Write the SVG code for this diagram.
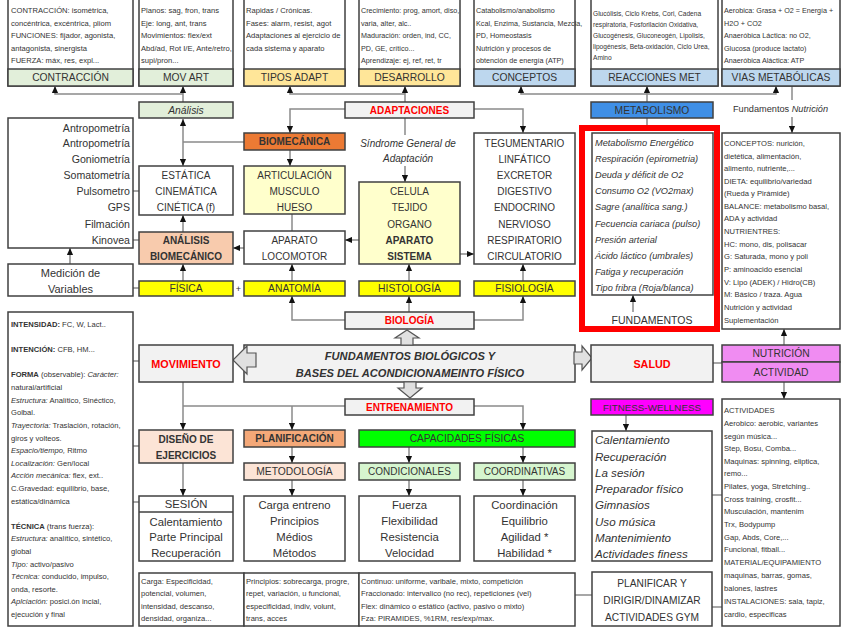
<svg xmlns="http://www.w3.org/2000/svg" width="848" height="636" viewBox="0 0 848 636">
<style>
text{font-family:"Liberation Sans",Arial,sans-serif;fill:#333;dominant-baseline:central}
.c{text-anchor:middle}
.e{text-anchor:end}
.L{font-size:10px}
.M{font-size:10.3px}
.s{font-size:7.6px}
.s2{font-size:7.2px}
.xs{font-size:6.6px}
.b{font-weight:bold}
.i{font-style:italic}
.r{fill:#ff0000}
.bx{fill:#fff;stroke:#404040;stroke-width:1.5}
.cn{fill:none;stroke:#8a8a8a;stroke-width:1.5}
.ar{marker-end:url(#a)}
.g1{fill:#e2efda}.yo{fill:#ffe699}.bl{fill:#bdd7ee}.gr{fill:#f2f2f2}.ye{fill:#ffff00}.ly{fill:#ffffcc}.pe{fill:#fce4d6}.pk{fill:#f8cbad}
.blk{fill:#e0e0e0;stroke:#555;stroke-width:1.2}
</style>
<defs>
<marker id="a" viewBox="0 0 8 8" refX="8" refY="4" markerWidth="7" markerHeight="7" markerUnits="userSpaceOnUse" orient="auto-start-reverse"><path d="M0,0.5 L8,4 L0,7.5z" fill="#111"/></marker>
</defs>
<rect width="848" height="636" fill="#fff"/>
<g id="connectors">
<path class="cn ar" d="M183,102 V86"/>
<path class="cn ar" d="M183,94 H55 V86"/>
<path class="cn ar" d="M405,102 V86"/>
<path class="cn ar" d="M405,94 H290 V86"/>
<path class="cn ar" d="M345,109 H290 V133"/>
<path class="cn" d="M405,118 V135"/>
<path class="cn ar" d="M405,166 V182"/>
<path class="cn ar" d="M474,109 H523 V133"/>
<path class="cn" d="M647,128 V94"/>
<path class="cn ar" d="M647,94 V86"/>
<path class="cn ar" d="M647,94 H521 V86"/>
<path class="cn ar" d="M647,94 H776 V86"/>
<path class="cn" d="M792,86 V100"/>
<path class="cn ar" d="M792,117 V133"/>
<path class="cn ar" d="M183,119 V166" marker-start="url(#a)"/>
<path class="cn" d="M183,142 H244"/>
<path class="cn" d="M133,191 H139"/>
<path class="cn" d="M133,240 H139"/>
<path class="cn ar" d="M290,150 V166"/>
<path class="cn" d="M292,214 V231"/>
<path class="cn ar" d="M244,248 H233"/>
<path class="cn ar" d="M183,232 V215"/>
<path class="cn ar" d="M70,264 V248"/>
<path class="cn" d="M133,288 H139"/>
<path class="cn ar" d="M183,281 V264"/>
<path class="cn ar" d="M292,281 V264"/>
<path class="cn ar" d="M359,240 H345"/>
<path class="cn ar" d="M460,254 H474"/>
<path class="cn ar" d="M409,281 V264"/>
<path class="cn ar" d="M523,281 V264"/>
<path class="cn ar" d="M345,320 H292 V296"/>
<path class="cn ar" d="M409,312 V296"/>
<path class="cn ar" d="M474,320 H523 V296"/>
<path class="cn ar" d="M633,312 V295"/>
<path class="cn" d="M133,361 H139"/>
<path class="cn ar" d="M183,382 V430"/>
<path class="cn" d="M345,406 H183"/>
<path class="cn ar" d="M292,406 V430"/>
<path class="cn ar" d="M474,406 H523 V430"/>
<path class="cn" d="M713,363 H722"/>
<path class="cn ar" d="M784,345 V329"/>
<path class="cn ar" d="M784,382 V399"/>
<path class="cn ar" d="M626,415 V431"/>
<path class="cn" d="M133,446 H139"/>
<path class="cn" d="M133,502 H139"/>
<path class="cn ar" d="M183,463 V496"/>
<path class="cn ar" d="M292,447 V463"/>
<path class="cn ar" d="M292,480 V496"/>
<path class="cn ar" d="M409,447 V463"/>
<path class="cn ar" d="M523,447 V463"/>
<path class="cn ar" d="M409,480 V496"/>
<path class="cn ar" d="M523,480 V496"/>
<path class="cn" d="M575,595 H592"/>
<path class="cn" d="M712,495 H722"/>
<path class="cn" d="M712,607 H722"/>
</g>

<g id="contraccion">
<rect class="bx" x="8" y="-2" width="125" height="88"/>
<text class="s" x="11" y="10">CONTRACCIÓN: isométrica,</text>
<text class="s" x="11" y="23">concéntrica, excéntrica, pliom</text>
<text class="s" x="11" y="35">FUNCIONES: fijador, agonista,</text>
<text class="s" x="11" y="48">antagonista, sinergista</text>
<text class="s" x="11" y="60">FUERZA: máx, res, expl...</text>
<rect class="bx g1" x="8" y="69" width="125" height="17"/>
<text class="M c" x="70.5" y="77.5">CONTRACCIÓN</text>
</g>
<g id="movart">
<rect class="bx" x="139" y="-2" width="94" height="88"/>
<text class="s" x="141" y="10">Planos: sag, fron, trans</text>
<text class="s" x="141" y="23">Eje: long, ant, trans</text>
<text class="s" x="141" y="35">Movimientos: flex/ext</text>
<text class="s" x="141" y="48">Abd/ad, Rot I/E, Ante/retro,</text>
<text class="s" x="141" y="60">supi/pron...</text>
<rect class="bx g1" x="139" y="69" width="94" height="17"/>
<text class="M c" x="186" y="77.5">MOV ART</text>
</g>
<g id="tiposadapt">
<rect class="bx" x="244" y="-2" width="101" height="88"/>
<text class="s" x="246" y="10">Rapidas / Crónicas.</text>
<text class="s" x="246" y="23">Fases: alarm, resist, agot</text>
<text class="s" x="246" y="35">Adaptaciones al ejercicio de</text>
<text class="s" x="246" y="48">cada sistema y aparato</text>
<rect class="bx yo" x="244" y="69" width="101" height="17"/>
<text class="M c" x="294.5" y="77.5">TIPOS ADAPT</text>
</g>
<g id="desarrollo">
<rect class="bx" x="359" y="-2" width="101" height="88"/>
<text class="s2" x="361" y="10">Crecimiento: prog, amort, diso,</text>
<text class="s2" x="361" y="23">varia, alter, alc..</text>
<text class="s2" x="361" y="35">Maduración: orden, ind, CC,</text>
<text class="s2" x="361" y="48">PD, GE, crítico...</text>
<text class="s2" x="361" y="60">Aprendizaje: ej, ref, ret, tr</text>
<rect class="bx yo" x="359" y="69" width="101" height="17"/>
<text class="M c" x="409.5" y="77.5">DESARROLLO</text>
</g>
<g id="conceptos">
<rect class="bx" x="474" y="-2" width="101" height="88"/>
<text class="s2" x="476" y="10">Catabolismo/anabolismo</text>
<text class="s2" x="476" y="23">Kcal, Enzima, Sustancia, Mezcla,</text>
<text class="s2" x="476" y="35">PD, Homeostasis</text>
<text class="s2" x="476" y="48">Nutrición y procesos de</text>
<text class="s2" x="476" y="60">obtención de energía (ATP)</text>
<rect class="bx bl" x="474" y="69" width="101" height="17"/>
<text class="M c" x="524.5" y="77.5">CONCEPTOS</text>
</g>
<g id="reacciones">
<rect class="bx" x="591" y="-2" width="127" height="88"/>
<text class="xs" x="593" y="13">Glucólisis, Ciclo Krebs, Cori, Cadena</text>
<text class="xs" x="593" y="24">respiratoria, Fosforilación Oxidativa,</text>
<text class="xs" x="593" y="35">Glucogénesis, Gluconeogén, Lipolisis,</text>
<text class="xs" x="593" y="46">lipogénesis, Beta-oxidación, Ciclo Urea,</text>
<text class="xs" x="593" y="57">Amino</text>
<rect class="bx bl" x="591" y="69" width="127" height="17"/>
<text class="M c" x="654.5" y="77.5">REACCIONES MET</text>
</g>
<g id="vias">
<rect class="bx" x="722" y="-2" width="118" height="88"/>
<text class="s2" x="724" y="10">Aerobica: Grasa + O2 = Energía +</text>
<text class="s2" x="724" y="23">H2O + CO2</text>
<text class="s2" x="724" y="35">Anaeróbica Láctica: no O2,</text>
<text class="s2" x="724" y="48">Glucosa (produce lactato)</text>
<text class="s2" x="724" y="60">Anaeróbica Aláctica: ATP</text>
<rect class="bx bl" x="722" y="69" width="118" height="17"/>
<text class="M c" x="781" y="77.5">VIAS METABÓLICAS</text>
</g>

<g id="analisis"><rect class="bx g1" x="139" y="102" width="94" height="16"/><text class="M c i" x="186" y="110">Análisis</text></g>
<g id="adaptaciones"><rect class="bx gr" x="345" y="102" width="129" height="16"/><text class="L c b r" x="409.5" y="110">ADAPTACIONES</text></g>
<g id="metabolismo"><rect class="bx" x="591" y="102" width="122" height="16" style="fill:#3f8fe6"/><text class="M c" x="652" y="110">METABOLISMO</text></g>
<text x="733" y="109" style="font-size:9.2px">Fundamentos <tspan class="i">Nutrición</tspan></text>
<text class="c i" x="408" y="143" style="font-size:10px">Síndrome General de</text>
<text class="c i" x="408" y="158" style="font-size:10px">Adaptación</text>

<g id="antropometria">
<rect class="bx" x="8" y="118" width="125" height="130"/>
<text class="e" x="130" y="128" style="font-size:10.6px">Antropometría</text>
<text class="e" x="130" y="143" style="font-size:10.6px">Antropometría</text>
<text class="e" x="130" y="159" style="font-size:10.6px">Goniometría</text>
<text class="e" x="130" y="175" style="font-size:10.6px">Somatometría</text>
<text class="e" x="130" y="191" style="font-size:10.6px">Pulsometro</text>
<text class="e" x="130" y="207" style="font-size:10.6px">GPS</text>
<text class="e" x="130" y="224" style="font-size:10.6px">Filmación</text>
<text class="e" x="130" y="240" style="font-size:10.6px">Kinovea</text>
</g>
<g id="estatica">
<rect class="bx" x="139" y="166" width="94" height="49"/>
<text class="L c" x="186" y="175">ESTÁTICA</text>
<text class="L c" x="186" y="191">CINEMÁTICA</text>
<text class="L c" x="186" y="207">CINÉTICA (f)</text>
</g>
<g id="biomecanica"><rect class="bx" x="244" y="133" width="101" height="17" style="fill:#ec7a34"/><text class="L c b" x="294.5" y="141.5">BIOMECÁNICA</text></g>
<g id="articulacion">
<rect class="bx ly" x="244" y="166" width="101" height="48"/>
<text class="L c" x="294.5" y="175">ARTICULACIÓN</text>
<text class="L c" x="294.5" y="191">MUSCULO</text>
<text class="L c" x="294.5" y="207">HUESO</text>
</g>
<g id="celula">
<rect class="bx ly" x="359" y="182" width="101" height="82"/>
<text class="L c" x="409.5" y="191">CELULA</text>
<text class="L c" x="409.5" y="207">TEJIDO</text>
<text class="L c" x="409.5" y="224">ORGANO</text>
<text class="L c b" x="409.5" y="240">APARATO</text>
<text class="L c b" x="409.5" y="256">SISTEMA</text>
</g>
<g id="sistemas">
<rect class="bx" x="474" y="133" width="101" height="131"/>
<text class="L c" x="524.5" y="143">TEGUMENTARIO</text>
<text class="L c" x="524.5" y="159">LINFÁTICO</text>
<text class="L c" x="524.5" y="175">EXCRETOR</text>
<text class="L c" x="524.5" y="191">DIGESTIVO</text>
<text class="L c" x="524.5" y="207">ENDOCRINO</text>
<text class="L c" x="524.5" y="224">NERVIOSO</text>
<text class="L c" x="524.5" y="240">RESPIRATORIO</text>
<text class="L c" x="524.5" y="256">CIRCULATORIO</text>
</g>
<g id="fundamentos-list">
<rect class="bx" x="592" y="133" width="121" height="162"/>
<text class="i" x="595" y="143" style="font-size:9.2px">Metabolismo Energético</text>
<text class="i" x="595" y="159" style="font-size:9.2px">Respiración (epirometria)</text>
<text class="i" x="595" y="175" style="font-size:9.2px">Deuda y déficit de O2</text>
<text class="i" x="595" y="191" style="font-size:9.2px">Consumo O2 (VO2max)</text>
<text class="i" x="595" y="207" style="font-size:9.2px">Sagre (analítica sang.)</text>
<text class="i" x="595" y="224" style="font-size:9.2px">Fecuencia cariaca (pulso)</text>
<text class="i" x="595" y="240" style="font-size:9.2px">Presión arterial</text>
<text class="i" x="595" y="256" style="font-size:9.2px">Ácido láctico (umbrales)</text>
<text class="i" x="595" y="272" style="font-size:9.2px">Fatiga y recuperación</text>
<text class="i" x="595" y="288" style="font-size:9.2px">Tipo fribra (Roja/blanca)</text>
<text class="c" x="652" y="320" style="font-size:10.5px">FUNDAMENTOS</text>
</g>
<rect id="highlight" x="582" y="128" width="135" height="201" fill="none" stroke="#ff0000" stroke-width="6"/>
<g id="nutricion-conceptos">
<rect class="bx" x="722" y="133" width="118" height="196"/>
<text class="s" x="724" y="143">CONCEPTOS: nurición,</text>
<text class="s" x="724" y="156">dietética, alimentación,</text>
<text class="s" x="724" y="168">alimento, nutriente,...</text>
<text class="s" x="724" y="181">DIETA: equilibrio/variedad</text>
<text class="s" x="724" y="193">(Rueda y Pirámide)</text>
<text class="s" x="724" y="206">BALANCE: metabolismo basal,</text>
<text class="s" x="724" y="218">ADA y actividad</text>
<text class="s" x="724" y="231">NUTRIENTRES:</text>
<text class="s" x="724" y="244">HC: mono, dis, polisacar</text>
<text class="s" x="724" y="256">G: Saturada, mono y poli</text>
<text class="s" x="724" y="269">P: aminoacido esencial</text>
<text class="s" x="724" y="282">V: Lipo (ADEK) / Hidro(CB)</text>
<text class="s" x="724" y="294">M: Básico / traza. Agua</text>
<text class="s" x="724" y="307">Nutrición y actividad</text>
<text class="s" x="724" y="320">Suplementación</text>
</g>
<g id="analisis-biomecanico">
<rect class="bx pk" x="139" y="232" width="94" height="32"/>
<text class="L c b" x="186" y="240">ANÁLISIS</text>
<text class="L c b" x="186" y="256">BIOMECÁNICO</text>
</g>
<g id="aparato-locomotor">
<rect class="bx" x="244" y="231" width="101" height="33"/>
<text class="L c" x="294.5" y="240">APARATO</text>
<text class="L c" x="294.5" y="256">LOCOMOTOR</text>
</g>
<g id="medicion">
<rect class="bx" x="8" y="264" width="125" height="32"/>
<text class="c" x="70.5" y="273" style="font-size:11px">Medición de</text>
<text class="c" x="70.5" y="289" style="font-size:11px">Variables</text>
</g>
<g id="fisica"><rect class="bx ye" x="139" y="281" width="94" height="15"/><text class="M c" x="186" y="288.5">FÍSICA</text></g>
<text class="c" x="238.5" y="289" style="font-size:9px">+</text>
<g id="anatomia"><rect class="bx ye" x="244" y="281" width="101" height="15"/><text class="M c" x="294.5" y="288.5">ANATOMÍA</text></g>
<g id="histologia"><rect class="bx ye" x="359" y="281" width="101" height="15"/><text class="M c" x="409.5" y="288.5">HISTOLOGÍA</text></g>
<g id="fisiologia"><rect class="bx ye" x="474" y="281" width="101" height="15"/><text class="M c" x="524.5" y="288.5">FISIOLOGÍA</text></g>
<g id="biologia"><rect class="bx gr" x="345" y="312" width="129" height="17"/><text class="L c b r" x="409.5" y="320.5">BIOLOGÍA</text></g>

<g id="fundamentos-central">
<rect class="bx gr" x="244" y="345" width="331" height="37"/>
<text class="c b i" x="410" y="356" style="font-size:11.1px">FUNDAMENTOS BIOLÓGICOS Y</text>
<text class="c b i" x="410" y="373" style="font-size:11.1px">BASES DEL ACONDICIONAMEINTO FÍSICO</text>
</g>
<g id="block-arrows">
<path class="blk" d="M401,345 V338 H395 L407,330 L419,338 H413 V345 Z"/>
<path class="blk" d="M404,382 V388 H398 L410,398 L422,388 H416 V382 Z"/>
<path class="blk" d="M256,353 H247 V346 L233,360 L247,374 V367 H256 Z"/>
<path class="blk" d="M574,352 H582 V346 L592,358 L582,370 V364 H574 Z"/>
</g>
<g id="movimiento"><rect class="bx gr" x="139" y="345" width="94" height="37"/><text class="c b r" x="186" y="363.5" style="font-size:10.8px">MOVIMIENTO</text></g>
<g id="salud"><rect class="bx gr" x="591" y="345" width="122" height="37"/><text class="c b r" x="652" y="363.5" style="font-size:10.8px">SALUD</text></g>
<g id="nutricion-actividad">
<rect class="bx" x="722" y="345" width="118" height="17" style="fill:#f08cf2"/>
<rect class="bx" x="722" y="362" width="118" height="20" style="fill:#f08cf2"/>
<text class="M c" x="781" y="353.5">NUTRICIÓN</text>
<text class="M c" x="781" y="372">ACTIVIDAD</text>
</g>
<g id="movimiento-texto">
<rect class="bx" x="8" y="312" width="125" height="314"/>
<text class="s" x="11" y="324"><tspan class="b">INTENSIDAD:</tspan> FC, W, Lact..</text>
<text class="s" x="11" y="349"><tspan class="b">INTENCIÓN:</tspan> CFB, HM...</text>
<text class="s" x="11" y="374"><tspan class="b">FORMA</tspan> (observable): <tspan class="i">Carácter:</tspan></text>
<text class="s" x="11" y="387">natural/artificial</text>
<text class="s" x="11" y="400"><tspan class="i">Estructura:</tspan> Analítico, Sinéctico,</text>
<text class="s" x="11" y="412">Golbal.</text>
<text class="s" x="11" y="425"><tspan class="i">Trayectoria:</tspan> Traslación, rotación,</text>
<text class="s" x="11" y="438">giros y volteos.</text>
<text class="s" x="11" y="450"><tspan class="i">Espacio/tiempo,</tspan> Ritmo</text>
<text class="s" x="11" y="463"><tspan class="i">Localización:</tspan> Gen/local</text>
<text class="s" x="11" y="475"><tspan class="i">Acción mecánica:</tspan> flex, ext..</text>
<text class="s" x="11" y="488">C.Gravedad: equilibrio, base,</text>
<text class="s" x="11" y="501">estática/dinámica</text>
<text class="s" x="11" y="526"><tspan class="b">TÉCNICA</tspan> (trans fuerza):</text>
<text class="s" x="11" y="538"><tspan class="i">Estructura:</tspan> analítico, sintético,</text>
<text class="s" x="11" y="551">global</text>
<text class="s" x="11" y="564"><tspan class="i">Tipo:</tspan> activo/pasivo</text>
<text class="s" x="11" y="576"><tspan class="i">Técnica:</tspan> conducido, impulso,</text>
<text class="s" x="11" y="589">onda, resorte.</text>
<text class="s" x="11" y="601"><tspan class="i">Aplciación:</tspan> posici.ón incial,</text>
<text class="s" x="11" y="614">ejecución y final</text>
</g>
<g id="entrenamiento"><rect class="bx gr" x="345" y="399" width="129" height="16"/><text class="L c b r" x="409.5" y="407">ENTRENAMIENTO</text></g>
<g id="fitness"><rect class="bx" x="591" y="399" width="122" height="16" style="fill:#ff00ff"/><text class="c" x="652" y="407" style="font-size:9.8px">FITNESS-WELLNESS</text></g>
<g id="diseno">
<rect class="bx pe" x="139" y="430" width="94" height="33"/>
<text class="L c b" x="186" y="439">DISEÑO DE</text>
<text class="L c b" x="186" y="455">EJERCICIOS</text>
</g>
<g id="sesion">
<rect class="bx" x="139" y="496" width="94" height="65"/>
<line x1="139" y1="512" x2="233" y2="512" stroke="#404040" stroke-width="1.5"/>
<text class="c" x="186" y="504" style="font-size:11.3px">SESIÓN</text>
<text class="c" x="186" y="522" style="font-size:11.3px">Calentamiento</text>
<text class="c" x="186" y="537" style="font-size:11.3px">Parte Principal</text>
<text class="c" x="186" y="553" style="font-size:11.3px">Recuperación</text>
</g>
<g id="planificacion"><rect class="bx" x="244" y="430" width="101" height="17" style="fill:#f4a878"/><text class="L c b" x="294.5" y="438.5">PLANIFICACIÓN</text></g>
<g id="metodologia"><rect class="bx pe" x="244" y="463" width="101" height="17"/><text class="M c" x="294.5" y="471.5">METODOLOGÍA</text></g>
<g id="carga">
<rect class="bx" x="244" y="496" width="101" height="65"/>
<text class="c" x="294.5" y="505" style="font-size:11.3px">Carga entreno</text>
<text class="c" x="294.5" y="521" style="font-size:11.3px">Principios</text>
<text class="c" x="294.5" y="537" style="font-size:11.3px">Médios</text>
<text class="c" x="294.5" y="553" style="font-size:11.3px">Métodos</text>
</g>
<g id="capacidades"><rect class="bx" x="359" y="430" width="216" height="17" style="fill:#00ff00"/><text class="c" x="467" y="438.5" style="font-size:10.2px">CAPACIDADES FÍSICAS</text></g>
<g id="condicionales"><rect class="bx" x="359" y="463" width="101" height="17" style="fill:#d6f5cf"/><text class="L c" x="409.5" y="471.5">CONDICIONALES</text></g>
<g id="coordinativas"><rect class="bx" x="474" y="463" width="101" height="17" style="fill:#d6f5cf"/><text class="L c" x="524.5" y="471.5">COORDINATIVAS</text></g>
<g id="fuerza">
<rect class="bx" x="359" y="496" width="101" height="65"/>
<text class="c" x="409.5" y="505" style="font-size:11.3px">Fuerza</text>
<text class="c" x="409.5" y="521" style="font-size:11.3px">Flexibilidad</text>
<text class="c" x="409.5" y="537" style="font-size:11.3px">Resistencia</text>
<text class="c" x="409.5" y="553" style="font-size:11.3px">Velocidad</text>
</g>
<g id="coordinacion">
<rect class="bx" x="474" y="496" width="101" height="65"/>
<text class="c" x="524.5" y="505" style="font-size:11.3px">Coordinación</text>
<text class="c" x="524.5" y="521" style="font-size:11.3px">Equilibrio</text>
<text class="c" x="524.5" y="537" style="font-size:11.3px">Agilidad *</text>
<text class="c" x="524.5" y="553" style="font-size:11.3px">Habilidad *</text>
</g>
<g id="carga-texto">
<rect class="bx" x="139" y="573" width="105" height="53"/>
<text class="s" x="141" y="581">Carga: Especificidad,</text>
<text class="s" x="141" y="593">potencial, volumen,</text>
<text class="s" x="141" y="606">intensidad, descanso,</text>
<text class="s" x="141" y="618">densidad, organiza...</text>
</g>
<g id="principios-texto">
<rect class="bx" x="244" y="573" width="115" height="53"/>
<text class="s" x="246" y="581">Principios: sobrecarga, progre,</text>
<text class="s" x="246" y="593">repet, variación, u funcional,</text>
<text class="s" x="246" y="606">especificidad, indiv, volunt,</text>
<text class="s" x="246" y="618">trans, acces</text>
</g>
<g id="metodos-texto">
<rect class="bx" x="359" y="573" width="216" height="53"/>
<text class="s" x="361" y="581">Continuo: uniforme, varibale, mixto, competición</text>
<text class="s" x="361" y="593">Fraccionado: intervalico (no rec), repeticiones (vel)</text>
<text class="s" x="361" y="606">Flex: dinámico o estático (activo, pasivo o mixto)</text>
<text class="s" x="361" y="618">Fza: PIRAMIDES, %1RM, res/exp/max.</text>
</g>
<g id="fitness-lista">
<rect class="bx" x="592" y="431" width="120" height="130"/>
<text class="i" x="595" y="439" style="font-size:11.6px">Calentamiento</text>
<text class="i" x="595" y="456" style="font-size:11.6px">Recuperación</text>
<text class="i" x="595" y="472" style="font-size:11.6px">La sesión</text>
<text class="i" x="595" y="488" style="font-size:11.6px">Preparador físico</text>
<text class="i" x="595" y="504" style="font-size:11.6px">Gimnasios</text>
<text class="i" x="595" y="521" style="font-size:11.6px">Uso música</text>
<text class="i" x="595" y="537" style="font-size:11.6px">Mantenimiento</text>
<text class="i" x="595" y="553" style="font-size:11.6px">Actividades finess</text>
</g>
<g id="planificar">
<rect class="bx" x="592" y="572" width="120" height="54"/>
<text class="c" x="652" y="583" style="font-size:10.2px">PLANIFICAR Y</text>
<text class="c" x="652" y="600" style="font-size:10.2px">DIRIGIR/DINAMIZAR</text>
<text class="c" x="652" y="617" style="font-size:10.2px">ACTIVIDADES GYM</text>
</g>
<g id="actividades">
<rect class="bx" x="722" y="399" width="118" height="227"/>
<text class="s" x="724" y="410">ACTIVIDADES</text>
<text class="s" x="724" y="423">Aerobico: aerobic, variantes</text>
<text class="s" x="724" y="436">según música...</text>
<text class="s" x="724" y="448">Step, Bosu, Comba...</text>
<text class="s" x="724" y="461">Maquinas: spinning, eliptica,</text>
<text class="s" x="724" y="473">remo...</text>
<text class="s" x="724" y="486">Pilates, yoga, Stretching..</text>
<text class="s" x="724" y="499">Cross training, crosfit...</text>
<text class="s" x="724" y="511">Musculación, mantenim</text>
<text class="s" x="724" y="524">Trx, Bodypump</text>
<text class="s" x="724" y="537">Gap, Abds, Core,...</text>
<text class="s" x="724" y="549">Funcional, fitball...</text>
<text class="s" x="724" y="562">MATERIAL/EQUIPAMIENTO</text>
<text class="s" x="724" y="575">maquinas, barras, gomas,</text>
<text class="s" x="724" y="588">balones, lastres</text>
<text class="s" x="724" y="601">INSTALACIONES: sala, tapiz,</text>
<text class="s" x="724" y="614">cardio, especificas</text>
</g>
</svg>
